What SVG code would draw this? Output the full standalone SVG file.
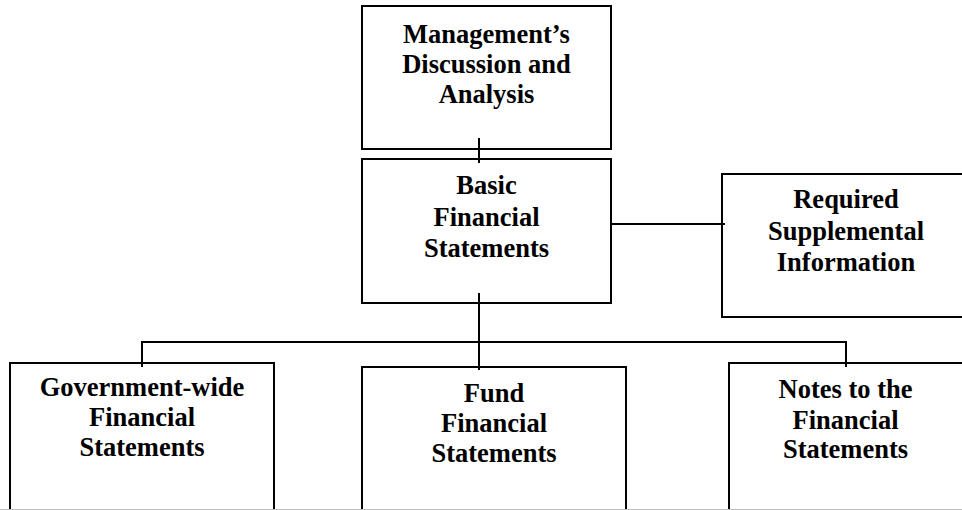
<svg xmlns="http://www.w3.org/2000/svg" width="962" height="510" viewBox="0 0 962 510">
<style>
.box{fill:#fff;stroke:#000;stroke-width:2}
.t{font-family:"Liberation Serif","Times New Roman",serif;font-weight:bold;font-size:26.5px;fill:#000;text-anchor:middle}
.c{stroke:#000;stroke-width:2;fill:none}
</style>
<rect width="962" height="510" fill="#fff"/>
<g id="mda">
<rect class="box" x="362" y="6" width="249" height="143"/>
<text class="t" x="486.5" y="43">Management’s</text>
<text class="t" x="486.5" y="73">Discussion and</text>
<text class="t" x="486.5" y="103">Analysis</text>
</g>
<g id="basic">
<rect class="box" x="362" y="159" width="249" height="144"/>
<text class="t" x="486.5" y="194">Basic</text>
<text class="t" x="486.5" y="225.5">Financial</text>
<text class="t" x="486.5" y="256.5">Statements</text>
</g>
<g id="rsi">
<rect class="box" x="722" y="174" width="248" height="143"/>
<text class="t" x="846" y="208">Required</text>
<text class="t" x="846" y="239.5">Supplemental</text>
<text class="t" x="846" y="270.5">Information</text>
</g>
<g id="gov">
<rect class="box" x="10" y="363" width="264" height="152"/>
<text class="t" x="142" y="395.5">Government-wide</text>
<text class="t" x="142" y="425.5">Financial</text>
<text class="t" x="142" y="456">Statements</text>
</g>
<g id="fund">
<rect class="box" x="362" y="367" width="264" height="148"/>
<text class="t" x="494" y="401.5">Fund</text>
<text class="t" x="494" y="432">Financial</text>
<text class="t" x="494" y="462">Statements</text>
</g>
<g id="notes">
<rect class="box" x="729" y="363" width="240" height="152"/>
<text class="t" x="845.5" y="398">Notes to the</text>
<text class="t" x="845.5" y="429">Financial</text>
<text class="t" x="845.5" y="458">Statements</text>
</g>
<g id="connectors">
<line class="c" x1="479" y1="138" x2="479" y2="163"/>
<line class="c" x1="611" y1="224" x2="725" y2="224"/>
<line class="c" x1="479" y1="293" x2="479" y2="370"/>
<polyline class="c" points="142,367 142,342 846,342 846,367"/>
</g>
<line x1="0" y1="509.5" x2="962" y2="509.5" stroke="#bbb" stroke-width="1"/>
</svg>
